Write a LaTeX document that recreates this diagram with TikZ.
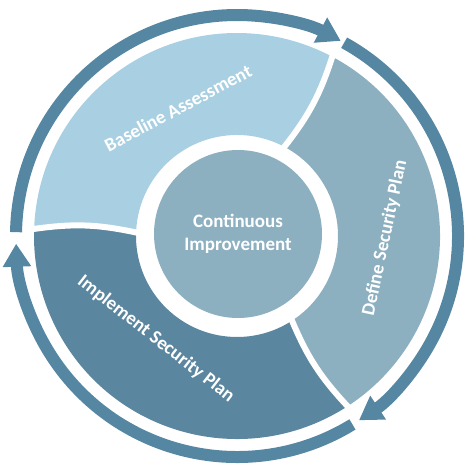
\documentclass[tikz,border=0pt]{standalone}
\usepackage{fontspec}
\setmainfont{Carlito}
\usetikzlibrary{arrows.meta}
\definecolor{baselinecol}{HTML}{A8D0E2}
\definecolor{definecol}{HTML}{8DB0C1}
\definecolor{implementcol}{HTML}{5A86A0}
\definecolor{arrowcol}{HTML}{5687A2}

\begin{document}
\begin{tikzpicture}[x=1pt, y=1pt,
  cyclearrow/.style={arrowcol, line width=12pt, -{Triangle[length=23pt, width=27pt]}},
  gapline/.style={white, line width=6pt, line cap=rect},
  seglabel/.style={text=white, font=\fontsize{19}{22}\selectfont\bfseries}]
\useasboundingbox (-237, -239) rectangle (237, 236);
\fill [baselinecol] (178:203) arc [start angle=178, end angle=62, radius=203] to[bend left=10] (62:101) arc [start angle=62, end angle=178, radius=101] to[bend right=10] (178:203) -- cycle;
\fill [definecol] (62:203) arc [start angle=62, end angle=-57, radius=203] to[bend left=10] (-57:101) arc [start angle=-57, end angle=62, radius=101] to[bend right=10] (62:203) -- cycle;
\fill [implementcol] (-57:203) arc [start angle=-57, end angle=-182, radius=203] to[bend left=10] (-182:101) arc [start angle=-182, end angle=-57, radius=101] to[bend right=10] (-57:203) -- cycle;
\draw [gapline] (62:203) to[bend left=10] (62:101);
\draw [gapline] (-57:203) to[bend left=10] (-57:101);
\draw [gapline] (178:203) to[bend left=10] (178:101);
\draw [cyclearrow] (179:221) arc [start angle=179, end angle=62, radius=221];
\draw [cyclearrow] (61:221) arc [start angle=61, end angle=-56.5, radius=221];
\draw [cyclearrow] (-58.5:221) arc [start angle=-58.5, end angle=-178, radius=221];
\node [circle, fill=definecol, minimum size=168pt, inner sep=0pt, align=center, text=white, font=\fontsize{19}{23}\selectfont\bfseries] (hub) at (1, 2) {Continuous\\Improvement};
\node [seglabel, rotate=28] (baseline) at (-59, 128) {Baseline Assessment};
\node [seglabel, rotate=78] (define) at (148, -2) {Define Security Plan};
\node [seglabel, rotate=-38] (implement) at (-81, -103) {Implement Security Plan};
\end{tikzpicture}
\end{document}
